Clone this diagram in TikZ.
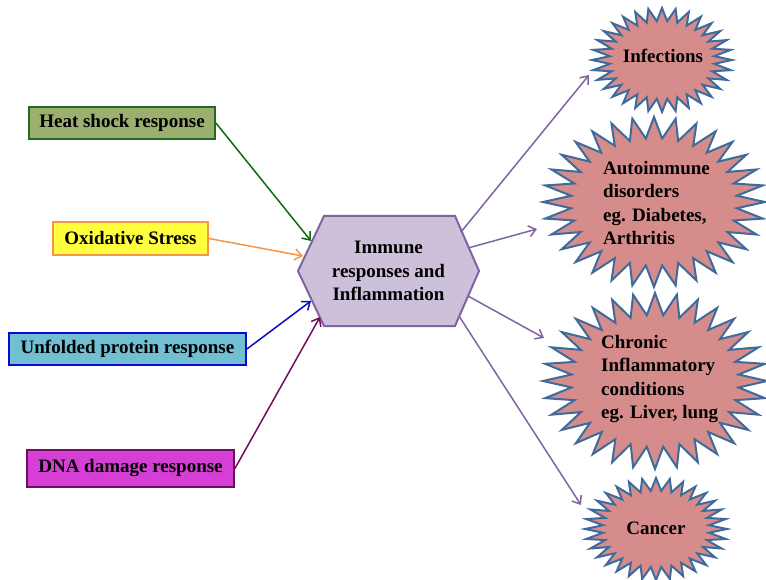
\documentclass[tikz,border=0pt]{standalone}
\usepackage{fontspec}
\setmainfont{Liberation Serif}
\usetikzlibrary{arrows.meta}
\definecolor{heatfill}{HTML}{9BAF6E}
\definecolor{heatdraw}{HTML}{1F6B1F}
\definecolor{heatarrow}{HTML}{0E6A0E}
\definecolor{oxfill}{HTML}{FFFF3F}
\definecolor{oxdraw}{HTML}{F79646}
\definecolor{unffill}{HTML}{70BFD2}
\definecolor{unfdraw}{HTML}{0A0ACC}
\definecolor{dnafill}{HTML}{D63FD6}
\definecolor{dnadraw}{HTML}{6E0E5C}
\definecolor{hexfill}{HTML}{CCC0DA}
\definecolor{hexdraw}{HTML}{8064A2}
\definecolor{burstfill}{HTML}{D58C8A}
\definecolor{burstdraw}{HTML}{3E6A9C}
\tikzset{
  lbl/.style={font=\fontsize{19}{23.3}\selectfont\bfseries, text=black, inner sep=0pt},
  srcbox/.style={lbl, draw=#1, line width=1.8pt, minimum height=32pt, inner xsep=4pt},
  inarrow/.style={draw=#1, line width=1.5pt, -{Straight Barb[length=7pt,width=11pt,line width=1.5pt]}},
  outarrow/.style={draw=hexdraw, line width=1.5pt, -{Straight Barb[length=7pt,width=11pt,line width=1.5pt]}},
  burst/.style={fill=burstfill, draw=burstdraw, line width=2pt, line join=miter},
  hexshape/.style={fill=hexfill, draw=hexdraw, line width=2pt, line join=miter}
}
\newcommand\myburst[4]{%
  \draw[burst] ({#1+#3},{#2}) \foreach \i in {1,...,63}{ -- ({#1+#3*(1-0.25*mod(\i,2))*cos(\i*5.625)},{#2+#4*(1-0.25*mod(\i,2))*sin(\i*5.625)}) } -- cycle;}
\begin{document}
\begin{tikzpicture}[x=1pt,y=-1pt]
\useasboundingbox (0,0) rectangle (766,580);
% source boxes
\node[srcbox=heatdraw, fill=heatfill, minimum width=186pt] (heat) at (122,123) {Heat shock response};
\node[srcbox=oxdraw, fill=oxfill, minimum width=155pt, minimum height=33pt] (ox) at (130.5,238.5) {Oxidative Stress};
\node[srcbox=unfdraw, fill=unffill, minimum width=237pt] (unf) at (127.5,349) {Unfolded protein response};
\node[srcbox=dnadraw, fill=dnafill, minimum width=207pt, minimum height=37pt] (dna) at (130.5,468.5) {DNA damage response};
% hexagon
\draw[hexshape] (298,271) -- (324,216) -- (455,216) -- (479,271) -- (455,326) -- (324,326) -- cycle;
\node[lbl, align=center] (imm) at (388.5,271) {Immune\\responses and\\Inflammation};
% bursts
\myburst{662}{60}{70}{52}
\myburst{654}{202}{111}{85}
\myburst{655}{381}{112}{88}
\myburst{656}{529}{71}{51}
\node[lbl] (inf) at (663,56) {Infections};
\node[lbl, align=left, anchor=west] (auto) at (603,203) {Autoimmune\\disorders\\eg. Diabetes,\\Arthritis};
\node[lbl, align=left, anchor=west] (chr) at (601,379) {Chronic\\Inflammatory\\conditions\\eg. Liver, lung};
\node[lbl] (can) at (656,528) {Cancer};
% coordinates
\coordinate (h1) at (311,241);
\coordinate (h2) at (303,256);
\coordinate (h3) at (311,301);
\coordinate (h4) at (320,317);
\coordinate (o1) at (461,232);
\coordinate (o2) at (468,248);
\coordinate (o3) at (468,296);
\coordinate (o4) at (459,316);
\coordinate (t1) at (589,75);
\coordinate (t2) at (537,229);
\coordinate (t3) at (544,338);
\coordinate (t4) at (581,505);
% arrows
\draw[inarrow=heatarrow] (heat.east) -- (h1);
\draw[inarrow=oxdraw] (ox.east) -- (h2);
\draw[inarrow=unfdraw] (unf.east) -- (h3);
\draw[inarrow=dnadraw] (dna.east) -- (h4);
\draw[outarrow] (o1) -- (t1);
\draw[outarrow] (o2) -- (t2);
\draw[outarrow] (o3) -- (t3);
\draw[outarrow] (o4) -- (t4);
\end{tikzpicture}
\end{document}
